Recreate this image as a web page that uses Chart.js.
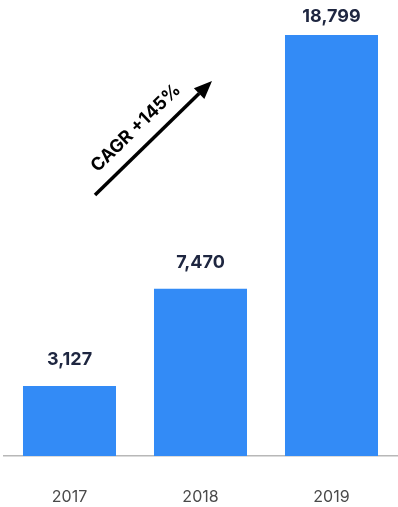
<!DOCTYPE html>
<html lang="en">
<head>
  <meta charset="utf-8">
  <title>Growth 2017-2019</title>
  <style>
    html, body {
      margin: 0;
      padding: 0;
      background: #ffffff;
    }
    #chart {
      display: block;
    }
  </style>
</head>
<body>
  <canvas id="chart" width="398" height="507"></canvas>

  <script src="https://cdn.jsdelivr.net/npm/chart.js@4.4.0/dist/chart.umd.min.js"></script>
  <script>
    var years = ['2017', '2018', '2019'];
    var values = [3127, 7470, 18799];
    var cagrText = 'CAGR +145%';

    // value above each bar
    var valueLabels = {
      id: 'valueLabels',
      afterDatasetsDraw: function (chart) {
        var ctx = chart.ctx;
        var meta = chart.getDatasetMeta(0);
        ctx.save();
        ctx.font = 'bold 18px Inter';
        ctx.fillStyle = '#1e2640';
        ctx.textAlign = 'center';
        ctx.textBaseline = 'middle';
        meta.data.forEach(function (bar, i) {
          var y = Math.max(bar.y - 26, 17);
          ctx.fillText(values[i].toLocaleString('en-US'), bar.x, y);
        });
        ctx.restore();
      }
    };

    // diagonal growth arrow with its caption
    var cagrArrow = {
      id: 'cagrArrow',
      afterDraw: function (chart) {
        var ctx = chart.ctx;
        var x0 = 95, y0 = 195, x1 = 212, y1 = 81;
        var ang = Math.atan2(y1 - y0, x1 - x0);
        var head = 18, half = 7.5;
        var bx = x1 - head * Math.cos(ang);
        var by = y1 - head * Math.sin(ang);

        ctx.save();
        ctx.strokeStyle = '#000';
        ctx.fillStyle = '#000';
        ctx.lineWidth = 3.5;
        ctx.beginPath();
        ctx.moveTo(x0, y0);
        ctx.lineTo(bx, by);
        ctx.stroke();

        ctx.beginPath();
        ctx.moveTo(x1, y1);
        ctx.lineTo(bx + half * Math.sin(ang), by - half * Math.cos(ang));
        ctx.lineTo(bx - half * Math.sin(ang), by + half * Math.cos(ang));
        ctx.closePath();
        ctx.fill();

        ctx.translate(136, 128);
        ctx.rotate(ang);
        ctx.font = 'bold 18px Inter';
        ctx.textAlign = 'center';
        ctx.textBaseline = 'middle';
        ctx.fillText(cagrText, 0, 0);
        ctx.restore();
      }
    };

    var ctx = document.getElementById('chart').getContext('2d');
    var chart = new Chart(ctx, {
      type: 'bar',
      data: {
        labels: years,
        datasets: [{
          data: values,
          backgroundColor: '#338bf6',
          borderWidth: 0,
          barPercentage: 0.71,
          categoryPercentage: 1
        }]
      },
      options: {
        responsive: false,
        animation: false,
        layout: {
          padding: { top: 35, left: 4, right: 1, bottom: 1 }
        },
        plugins: {
          legend: { display: false },
          tooltip: { enabled: false }
        },
        scales: {
          x: {
            grid: { display: false, drawTicks: false },
            border: { display: true, color: '#b8b8b8', width: 1.5 },
            ticks: {
              padding: 32,
              color: '#4a4a4a',
              font: { family: 'Inter', size: 16 }
            },
            afterFit: function (scale) {
              scale.height = 50;
            }
          },
          y: {
            display: false,
            min: 0,
            max: 18799
          }
        }
      },
      plugins: [valueLabels, cagrArrow]
    });
  </script>
</body>
</html>
